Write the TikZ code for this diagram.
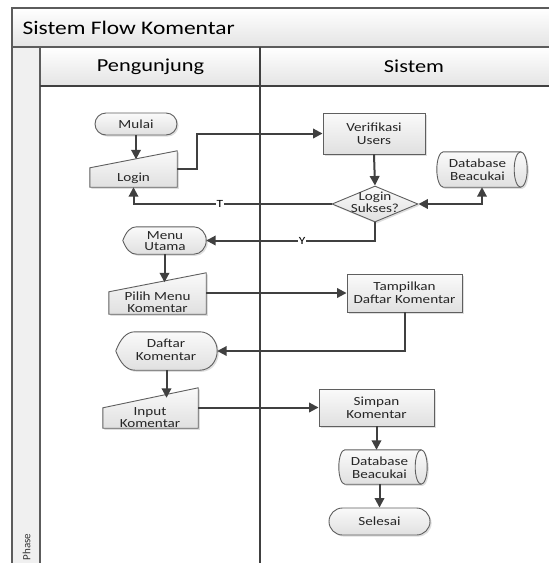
\documentclass[tikz,border=0pt]{standalone}
\usepackage{fontspec}
\setmainfont{Carlito}[FakeStretch=1.22]
\newfontfamily\narrowfont{Carlito}
\usetikzlibrary{arrows.meta,calc,shapes.misc,shapes.geometric}
\pgfdeclarelayer{background}
\pgfsetlayers{background,main}

\definecolor{frameline}{HTML}{5C5C5C}
\definecolor{laneline}{HTML}{404040}
\definecolor{wire}{HTML}{404040}
\definecolor{shapeline}{HTML}{5F5F5F}
\definecolor{bandbot}{HTML}{E4E4E4}
\definecolor{boxtop}{HTML}{FAFAFA}
\definecolor{boxbot}{HTML}{E0E0E0}
\definecolor{phasefill}{HTML}{F0F0F0}

\tikzset{
  shapebox/.style={draw=shapeline, line width=0.9pt, top color=boxtop, bottom color=boxbot,
    preaction={fill=black!13, transform canvas={shift={(1.6pt,-1.6pt)}}}},
  txt/.style={font=\fontsize{12.4}{13}\selectfont, align=center, text=black!85, inner sep=0pt},
  tighttxt/.style={txt, font=\fontsize{12.4}{11.5}\selectfont},
  procbox/.style={shapebox, txt, rectangle},
  termbox/.style={shapebox, txt, rounded rectangle},
  holder/.style={rectangle, inner sep=0pt, draw=none},
  wireline/.style={draw=wire, line width=2pt},
  flowarrow/.style={wireline, -{Triangle[length=9.5pt,width=9.5pt]}},
  bothways/.style={wireline, {Triangle[length=9.5pt,width=9.5pt]}-{Triangle[length=9.5pt,width=9.5pt]}},
  branch/.style={font=\fontsize{11}{11}\selectfont, fill=white, inner sep=1pt, text=black},
  lanehead/.style={font=\fontsize{18.3}{19}\selectfont, text=black},
}

% manual input: flat bottom, top edge rising to the right
\newcommand\manualshape[2]{%
  \path[shapebox] (#1.south west) -- (#1.south east) -- ($(#1.north east)+(0,-#2)$)
    -- (#1.north west) -- cycle;
  \coordinate (#1-top) at ($(#1.north)+(0,-#2/2)$);}

% display: pointed left end, rounded right end
\newcommand\displayshape[1]{%
  \path[shapebox] let \p1=(#1.north west), \p2=(#1.south east),
      \n1={\y1-\y2}, \n2={(\y1+\y2)/2}, \n3={0.45*\n1} in
    (\x1,\n2) .. controls ({\x1+0.12*\n1},{\n2+0.32*\n1}) and ({\x1+0.28*\n1},\y1) .. ({\x1+0.5*\n1},\y1)
    -- ({\x2-\n3},\y1)
    .. controls ({\x2-0.4477*\n3},\y1) and (\x2,{\n2+0.2761*\n1}) .. (\x2,\n2)
    .. controls (\x2,{\n2-0.2761*\n1}) and ({\x2-0.4477*\n3},\y2) .. ({\x2-\n3},\y2)
    -- ({\x1+0.5*\n1},\y2)
    .. controls ({\x1+0.28*\n1},\y2) and ({\x1+0.12*\n1},{\n2-0.32*\n1}) .. (\x1,\n2) -- cycle;}

% direct access storage: horizontal drum
\newcommand\storeshape[2]{%
  \path[shapebox] let \p1=(#1.north west), \p2=(#1.south east),
      \n1={(\y1-\y2)/2}, \n2={#2}, \n3={\y2+\n1} in
    ({\x1+\n2},\y1) -- ({\x2-\n2},\y1)
    .. controls ({\x2-0.4477*\n2},\y1) and (\x2,{\n3+0.5523*\n1}) .. (\x2,\n3)
    .. controls (\x2,{\n3-0.5523*\n1}) and ({\x2-0.4477*\n2},\y2) .. ({\x2-\n2},\y2)
    -- ({\x1+\n2},\y2)
    .. controls ({\x1+0.4477*\n2},\y2) and (\x1,{\n3-0.5523*\n1}) .. (\x1,\n3)
    .. controls (\x1,{\n3+0.5523*\n1}) and ({\x1+0.4477*\n2},\y1) .. ({\x1+\n2},\y1) -- cycle;
  \draw[draw=shapeline, line width=0.9pt] let \p1=(#1.north west), \p2=(#1.south east),
      \n1={(\y1-\y2)/2}, \n2={#2}, \n3={\y2+\n1} in
    ({\x2-\n2},\y1) .. controls ({\x2-1.5523*\n2},\y1) and ({\x2-2*\n2},{\n3+0.5523*\n1}) .. ({\x2-2*\n2},\n3)
    .. controls ({\x2-2*\n2},{\n3-0.5523*\n1}) and ({\x2-1.5523*\n2},\y2) .. ({\x2-\n2},\y2);}

\begin{document}
\begin{tikzpicture}[x=1pt, y=-1pt]
\useasboundingbox (0,0) rectangle (549,563);

% ---------- swimlane frame ----------
\begin{pgfonlayer}{background}
  \fill[white] (0,0) rectangle (549,563);
  \path[top color=white, bottom color=bandbot] (12,8) rectangle (575,47);
  \path[top color=white, bottom color=bandbot] (40,47) rectangle (575,86);
  \fill[phasefill] (12,47) rectangle (40,570);
  \draw[frameline, line width=1.4pt] (12,570) -- (12,8) -- (575,8);
  \draw[frameline, line width=1.4pt] (12,47) -- (575,47);
  \draw[frameline, line width=1.2pt] (40,47) -- (40,570);
  \draw[laneline, line width=1.4pt] (40,86) -- (575,86);
  \draw[laneline, line width=1.4pt] (260,47) -- (260,570);
\end{pgfonlayer}

\node[anchor=west, font=\fontsize{19.2}{21}\selectfont] (title) at (19,27.5) {Sistem Flow Komentar};
\node[lanehead] (lanevisitor) at (150.5,66.5) {Pengunjung};
\node[lanehead] (lanesystem) at (414,66.5) {Sistem};
\node[rotate=90, font=\narrowfont\fontsize{11}{11}\selectfont, text=black!80] (phase) at (26.5,547) {Phase};

% ---------- flow shapes ----------
\node[termbox, minimum width=82, minimum height=22] (mulai) at (136,124) {Mulai};

\node[holder, minimum width=87, minimum height=19] (login) at (133.5,177.5) {};
\node[procbox, minimum width=102, minimum height=41] (verif) at (374,133.5) {Verifikasi\\Users};
\node[diamond, shapebox, minimum width=86, minimum height=36, inner sep=0pt] (dia) at (375,204) {};
\node[holder, minimum width=90, minimum height=35] (dbtop) at (482,169.5) {};

\node[holder, minimum width=83, minimum height=27] (menu) at (164.5,240.5) {};
\node[holder, minimum width=97, minimum height=22] (pilih) at (157.5,303) {};
\node[procbox, minimum width=115, minimum height=38] (tamp) at (404.5,293) {Tampilkan\\Daftar Komentar};
\node[holder, minimum width=101, minimum height=38] (daftar) at (166.5,351) {};
\node[holder, minimum width=95, minimum height=20] (input) at (150.5,418) {};
\node[procbox, minimum width=115, minimum height=37] (simpan) at (376.5,407.5) {Simpan\\Komentar};
\node[holder, minimum width=88, minimum height=34] (dbbot) at (383,467) {};
\node[termbox, minimum width=101, minimum height=27] (selesai) at (379.5,521.5) {Selesai};

\begin{pgfonlayer}{background}
  \manualshape{login}{17}
  \storeshape{dbtop}{6.5pt}
  \displayshape{menu}
  \manualshape{pilih}{19}
  \displayshape{daftar}
  \manualshape{input}{20}
  \storeshape{dbbot}{6pt}
\end{pgfonlayer}

% texts of the outlined shapes
\node[txt] (logintext) at (133.5,178) {Login};
\node[tighttxt] (diatext) at (375,202.5) {Login\\Sukses?};
\node[txt] (dbtoptext) at (477.5,169.5) {Database\\Beacukai};
\node[tighttxt] (menutext) at (165,241) {Menu\\Utama};
\node[tighttxt] (pilihtext) at (157.5,302) {Pilih Menu\\Komentar};
\node[txt] (daftartext) at (166,350) {Daftar\\Komentar};
\node[tighttxt] (inputtext) at (150,417.5) {Input\\Komentar};
\node[txt] (dbbottext) at (379.5,467.5) {Database\\Beacukai};

% ---------- connectors ----------
\coordinate (loginout) at ($(login.north east)+(0,1)$);
\draw[flowarrow] (mulai.south) -- (mulai.south |- login-top);
\draw[flowarrow] (loginout) -- ++(20,0) |- (verif.west);
\draw[flowarrow] (verif.south) -- (dia.north);
\draw[bothways] (dia.east) -| (dbtop.south);
\draw[flowarrow] (dia.west) -| (login.south) node[branch, pos=0.282] {T};
\draw[flowarrow] (dia.south) |- (menu.east) node[branch, pos=0.716] {Y};
\draw[flowarrow] (menu.south) -- (menu.south |- pilih-top);
\draw[flowarrow] (pilih.north east |- tamp.west) -- (tamp.west);
\draw[flowarrow] (tamp.south) |- (daftar.east);
\draw[flowarrow] (daftar.south) -- (daftar.south |- input-top);
\draw[flowarrow] (input.east |- simpan.west) -- (simpan.west);
\draw[flowarrow] (simpan.south) -- (simpan.south |- dbbot.north);
\draw[flowarrow] (selesai.north |- dbbot.south) -- (selesai.north);
\end{tikzpicture}
\end{document}
